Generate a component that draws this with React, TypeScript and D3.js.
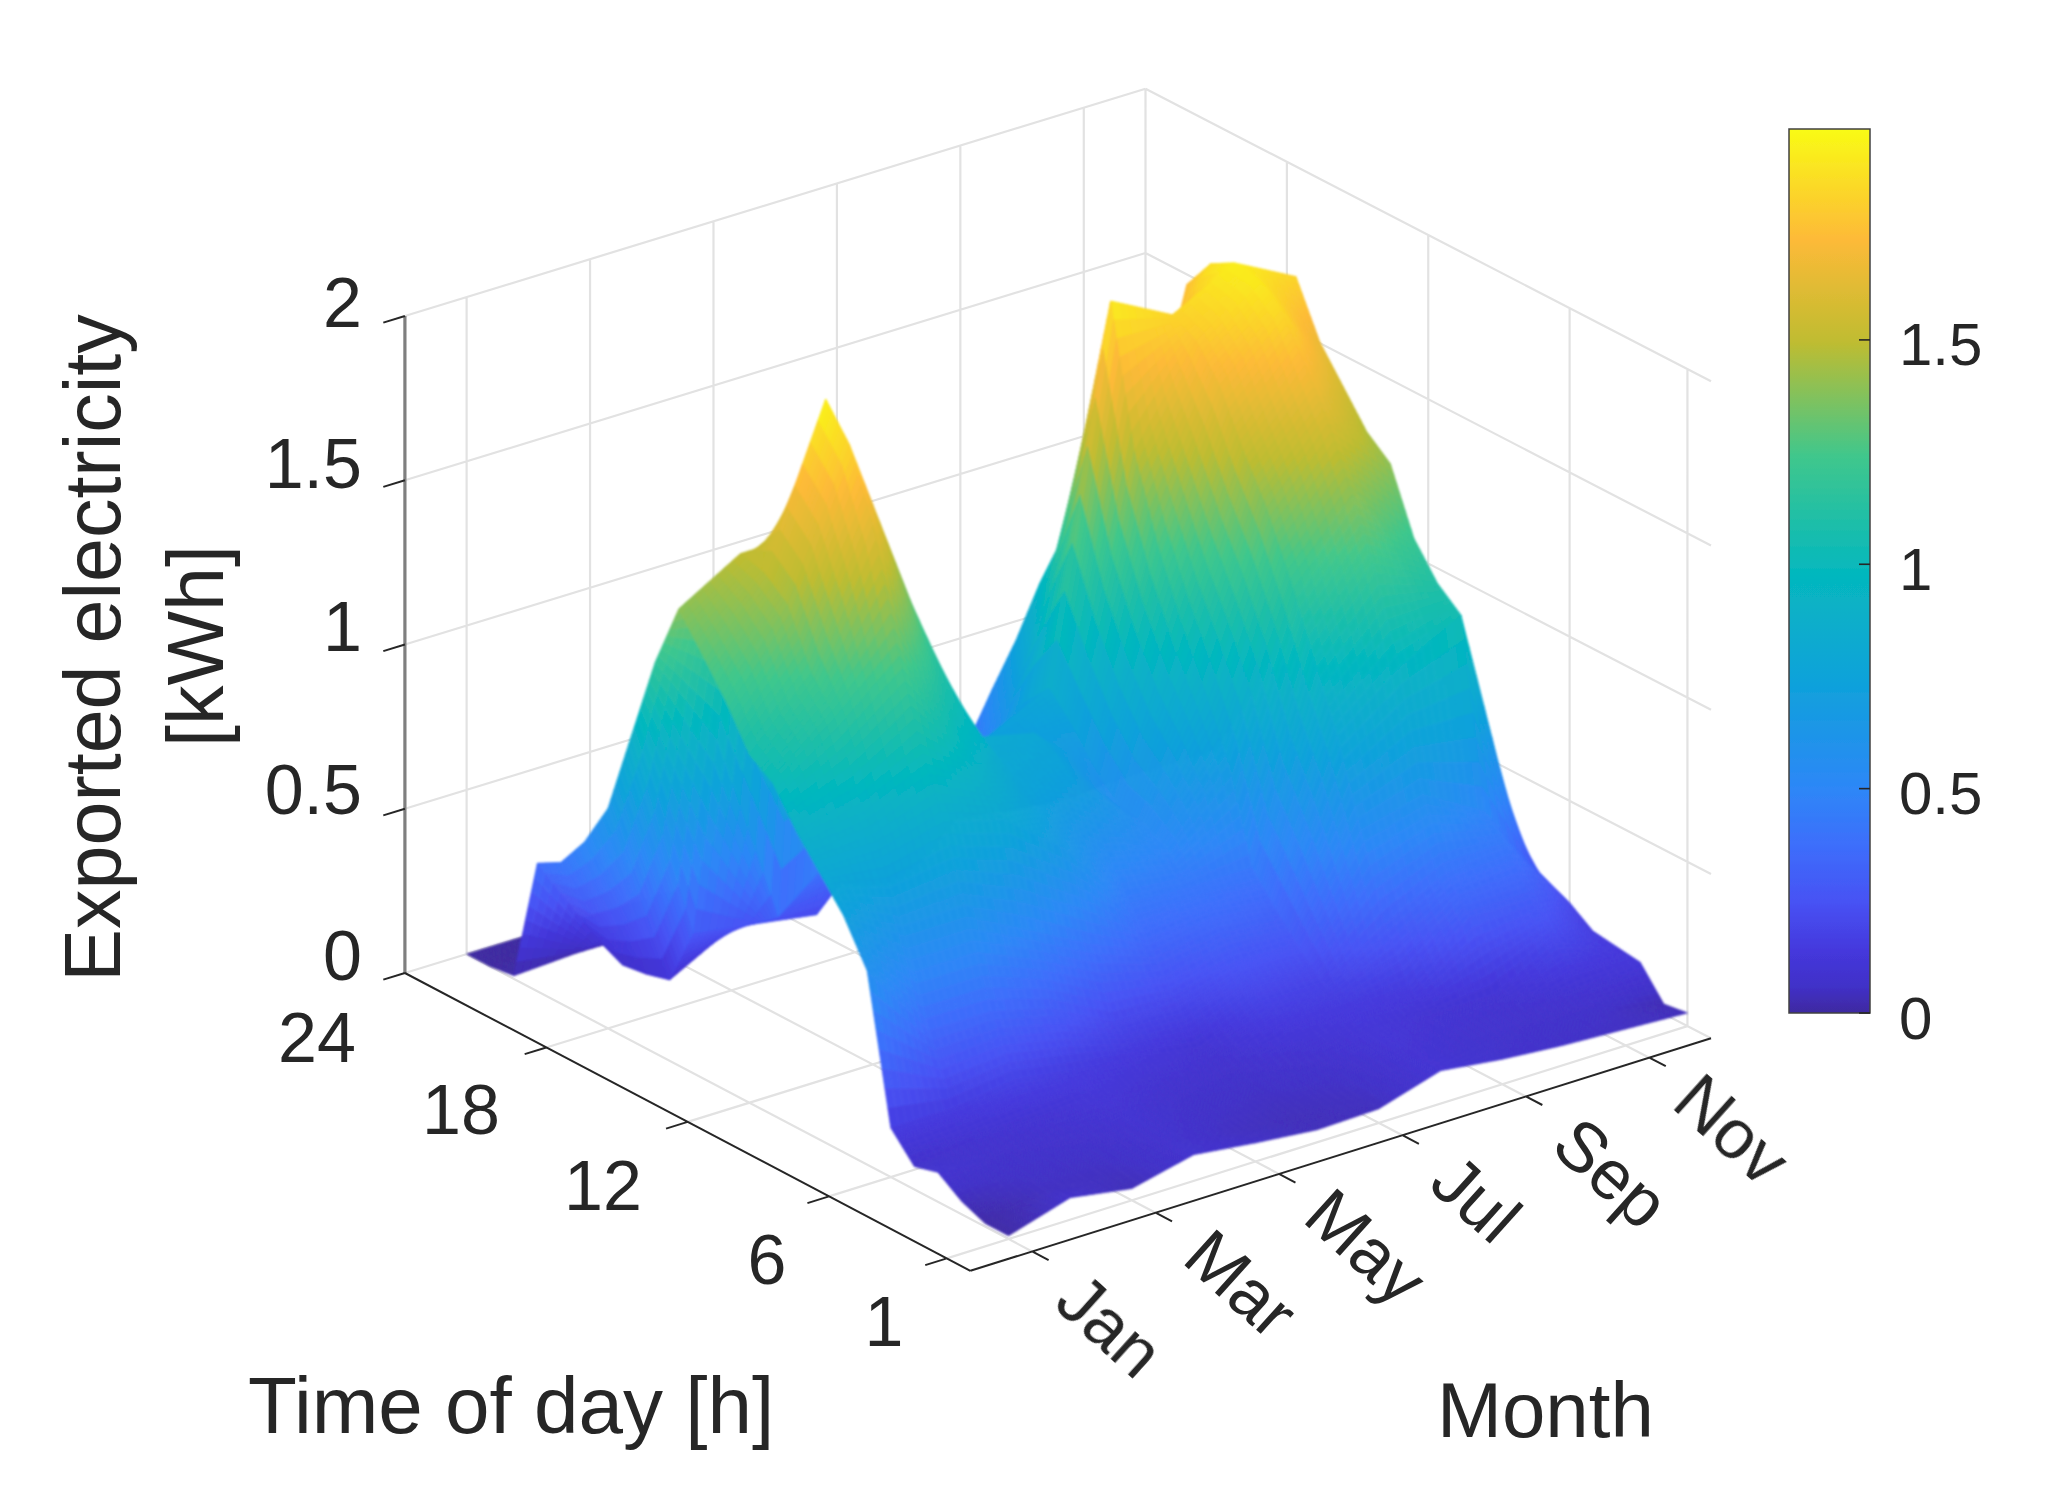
import React, { useMemo } from 'react';
import * as d3 from 'd3';

// hourly exported electricity [kWh], one row per month, hours 1..24
const jan = [.01, .01, .04, .09, .07, .15, .59, .72, .81, .9, 1.01, 1.06, 1.185, 1.29, 1.39, 1.19, .93, .67, .53, .43, .39, .01, 0, 0];
const feb = [.067, .05, .06, .07, .09, .15, .35, .6, .8, .95, 1.15, 1.25, 1.42, 1.48, 1.5, .9, .27, .09, .07, .06, .095, .02, 0, 0];
const mar = [.036, .05, .06, .08, .1, .18, .35, .6, .85, 1.05, 1.32, 1.64, 1.85, 1.95, 1.5, .3, .24, .19, .14, .09, .05, .02, 0, 0];
const apr = [.08, .08, .09, .1, .12, .15, .3, .5, .8, .9, .99, 1.15, 1.31, 1.45, 1.35, .45, .21, .45, .52, .56, .31, .07, .02, 0];
const may = [.057, .05, .06, .07, .09, .13, .2, .4, .65, .72, .78, .82, .84, .75, .6, .45, .4, .35, .3, .25, .12, .03, .01, 0];
const jun = [.038, .04, .05, .06, .08, .1, .2, .32, .43, .55, .7, .76, .795, .73, .71, .55, .35, .2, .12, .07, .04, .02, .01, 0];
const jul = [.043, .05, .06, .08, .12, .18, .25, .35, .42, .5, .54, .55, .62, .72, .8, .72, .6, .4, .25, .12, .04, .02, .01, 0];
const aug = [.1, .1, .11, .12, .14, .18, .25, .33, .42, .7, .88, 1.05, 1.25, 1.5, 1.92, 1.52, 1.13, .95, .74, .555, .36, .08, .02, 0];
const sep = [.076, .08, .09, .1, .15, .3, .55, .8, 1.0, 1.2, 1.38, 1.52, 1.68, 1.78, 1.82, 1.6, 1.1, .75, .5, .3, .12, .05, .02, 0];
const oct = [.06, .07, .08, .1, .3, .4, .6, .95, 1.2, 1.4, 1.58, 1.72, 1.85, 1.91, 1.92, 1.88, 1.78, 1.4, .9, .4, .1, .03, .01, 0];
const nov = [.05, .06, .1, .2, .3, .42, .49, 1.05, 1.11, 1.21, 1.4, 1.46, 1.56, 1.66, 1.82, 1.6, 1.2, .8, .5, .25, .1, .05, .02, 0];
const dec = [.04, .03, .12, .13, .14, .19, .22, .25, .32, .4, .6, .8, .95, 1.05, 1.1, 1.0, .8, .6, .4, .25, .1, .05, .02, 0];
const monthRows = [jan, feb, mar, apr, may, jun, jul, aug, sep, oct, nov, dec];

const monthTicks = [1, 3, 5, 7, 9, 11];
const monthLabels = ['Jan', 'Mar', 'May', 'Jul', 'Sep', 'Nov'];
const hourTicks = [1, 6, 12, 18, 24];
const zTicks = [0, 0.5, 1, 1.5, 2];
const barTicks = [0, 0.5, 1, 1.5];

const parulaStops = ['#3E2AA0', '#4130C8', '#4438DC', '#4752F4', '#3D6EFB', '#2D87F7', '#0DA3D9', '#05B8BD', '#40C78C', '#C0BC30', '#FDBA38', '#F9FB15'];
const parulaAt = [0, .03, .07, .125, .19, .254, .38, .5, .63, .76, .875, 1];

const FONT = '"Liberation Sans", Arial, sans-serif';
const INK = '#262626';
const GRID = '#e2e2e2';
const SUB = 8; // subdivisions per grid cell, for the interpolated shading

const originX = 970.4;
const originY = 1270.8;
const monthDx = d3.scaleLinear([0, 12], [0, 740.6]);
const monthDy = d3.scaleLinear([0, 12], [0, -232.5]);
const hourDx = d3.scaleLinear([0, 24], [0, -565.5]);
const hourDy = d3.scaleLinear([0, 24], [0, -297.8]);
const zDy = d3.scaleLinear([0, 2], [0, -657]);

// the far corner sits a few px lower than a plain parallel view: slight perspective
const project = (m: number, h: number, z: number): [number, number] => [
  originX + monthDx(m) + hourDx(h),
  originY + monthDy(m) + hourDy(h) + zDy(z) + 5.2 * (m / 12) * (h / 24),
];

const zMax = 1.97;
const color = d3.scaleLinear<string>()
  .domain(parulaAt.map(t => t * zMax))
  .range(parulaStops)
  .clamp(true);

const barY = d3.scaleLinear([0, zMax], [1013, 129]);

const seg = (a: [number, number, number], b: [number, number, number]) => {
  const p = project(...a);
  const q = project(...b);
  return `M${p[0]},${p[1]}L${q[0]},${q[1]}`;
};

const App = () => {
  // far cells first so the nearer ones paint over them
  const cells = useMemo(() => {
    const out: { d: string; fill: string }[] = [];
    const line = d3.line();
    for (let i = monthRows.length - 2; i >= 0; i--) {
      for (let j = 22; j >= 0; j--) {
        const z00 = monthRows[i][j];
        const z01 = monthRows[i][j + 1];
        const z10 = monthRows[i + 1][j];
        const z11 = monthRows[i + 1][j + 1];
        const zAt = (u: number, v: number) =>
          z00 * (1 - u) * (1 - v) + z10 * u * (1 - v) + z01 * (1 - u) * v + z11 * u * v;
        for (let a = SUB - 1; a >= 0; a--) {
          for (let b = SUB - 1; b >= 0; b--) {
            const u0 = a / SUB, u1 = (a + 1) / SUB, v0 = b / SUB, v1 = (b + 1) / SUB;
            const pt = (u: number, v: number) => project(i + 1 + u, j + 1 + v, zAt(u, v));
            out.push({
              d: line([pt(u0, v0), pt(u1, v0), pt(u1, v1), pt(u0, v1)]) + 'Z',
              fill: color(zAt((u0 + u1) / 2, (v0 + v1) / 2)),
            });
          }
        }
      }
    }
    return out;
  }, []);

  const gridPath = [
    ...monthTicks.flatMap(m => [seg([m, 0, 0], [m, 24, 0]), seg([m, 24, 0], [m, 24, 2])]),
    ...hourTicks.flatMap(h => [seg([0, h, 0], [12, h, 0]), seg([12, h, 0], [12, h, 2])]),
    ...zTicks.flatMap(z => [seg([0, 24, z], [12, 24, z]), seg([12, 24, z], [12, 0, z])]),
  ].join('');

  const axisPath = [
    seg([0, 0, 0], [0, 24, 0]),
    seg([0, 0, 0], [12, 0, 0]),
    ...hourTicks.map(h => seg([0, h, 0], [-0.35, h, 0])),
    ...monthTicks.map(m => seg([m, 0, 0], [m, -0.7, 0])),
    ...zTicks.map(z => seg([0, 24, z], [-0.35, 24, z])),
  ].join('');

  const zLabelY = [956, 790, 627, 464, 303];
  const hourLabelPos = [[884, 1322], [767, 1260], [603, 1186], [461, 1110], [317, 1038]];
  const monthLabelPos = [[1110, 1326], [1241, 1284], [1366, 1247], [1476, 1199], [1611, 1173], [1732, 1130]];

  return (
    <svg width={2048} height={1510} style={{ position: 'absolute', left: 0, top: 0, background: '#fff' }} fontFamily={FONT} fill={INK}>
      <defs>
        <linearGradient id="bar" x1="0" y1="1" x2="0" y2="0">
          {parulaAt.map((t, i) => <stop key={i} offset={t} stopColor={parulaStops[i]} />)}
        </linearGradient>
        <filter id="soft" filterUnits="userSpaceOnUse" x="0" y="0" width="2048" height="1510">
          <feGaussianBlur stdDeviation="0.7" />
        </filter>
        <filter id="softer" filterUnits="userSpaceOnUse" x="0" y="0" width="2048" height="1510">
          <feGaussianBlur stdDeviation="1.1" />
        </filter>
      </defs>

      <g filter="url(#soft)">
        <path d={gridPath} fill="none" stroke={GRID} strokeWidth={2.2} />
        <path d={seg([0, 24, 0], [0, 24, 2])} fill="none" stroke="#7f7f7f" strokeWidth={3.2} />
        <path d={axisPath} fill="none" stroke={INK} strokeWidth={2} />
      </g>

      <g filter="url(#softer)">
        {cells.map((c, i) => <path key={i} d={c.d} fill={c.fill} stroke={c.fill} strokeWidth={0.7} />)}
      </g>

      <g filter="url(#soft)">
        {zTicks.map((z, i) => (
          <text key={z} x={362} y={zLabelY[i]} fontSize={70} textAnchor="end" dominantBaseline="central">{z}</text>
        ))}
        {hourTicks.map((h, i) => (
          <text key={h} x={hourLabelPos[i][0]} y={hourLabelPos[i][1]} fontSize={70} textAnchor="middle" dominantBaseline="central">{h}</text>
        ))}
        {monthLabels.map((label, i) => (
          <text key={label} transform={`translate(${monthLabelPos[i][0]},${monthLabelPos[i][1]}) rotate(42)`} fontSize={70} textAnchor="middle" dominantBaseline="central">{label}</text>
        ))}

        <text x={248} y={1433} fontSize={80}>Time of day [h]</text>
        <text x={1437} y={1437} fontSize={78}>Month</text>
        <text transform="translate(120,648) rotate(-90)" fontSize={79} textAnchor="middle">Exported electricity</text>
        <text transform="translate(223,646) rotate(-90)" fontSize={79} textAnchor="middle">[kWh]</text>

        <rect x={1789} y={129} width={81} height={884} fill="url(#bar)" stroke="#404040" strokeWidth={1.5} />
        {barTicks.map(t => (
          <g key={t}>
            <line x1={1859} x2={1870} y1={barY(t)} y2={barY(t)} stroke={INK} strokeWidth={1.6} />
            <text x={1899} y={barY(t) + 5} fontSize={60} dominantBaseline="central">{t}</text>
          </g>
        ))}
      </g>
    </svg>
  );
};

export default App;
